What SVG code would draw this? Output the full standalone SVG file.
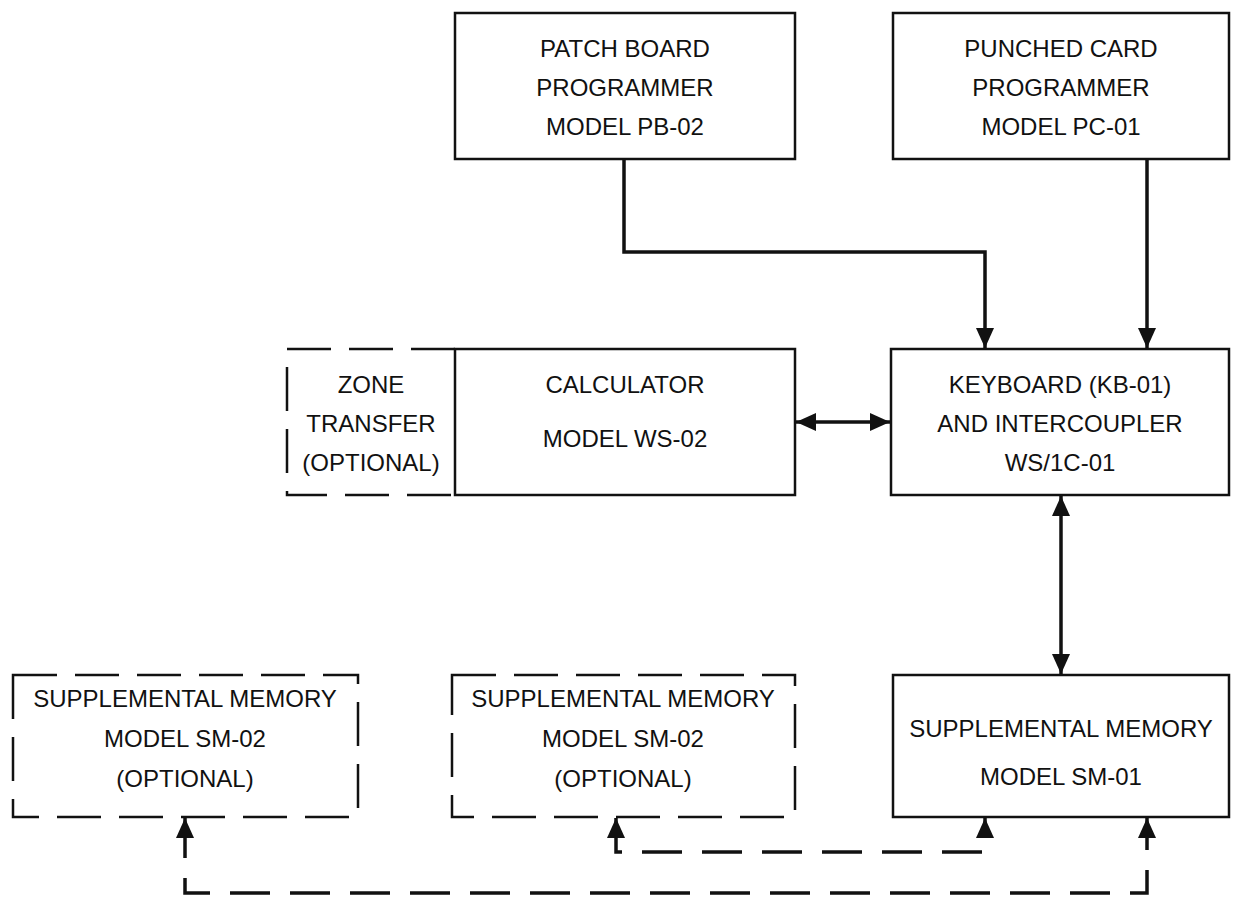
<svg xmlns="http://www.w3.org/2000/svg" width="1238" height="904" viewBox="0 0 1238 904">
<style>
.box{fill:none;stroke:#111;stroke-width:2.5}
.dbox{fill:none;stroke:#111;stroke-width:2.5;stroke-dasharray:44 18}
.t{font-family:"Liberation Sans",Arial,sans-serif;font-size:24px;fill:#111;text-anchor:middle}
.c{fill:none;stroke:#111;stroke-width:3.5}
.dc{fill:none;stroke:#111;stroke-width:3.5;stroke-dasharray:40 20}
</style>
<defs>
<marker id="ah" markerUnits="userSpaceOnUse" markerWidth="22" markerHeight="20" refX="20" refY="10" orient="auto-start-reverse">
<path d="M0,1 L20,10 L0,19 Z" fill="#111"/>
</marker>
</defs>
<rect width="1238" height="904" fill="#fff"/>
<g id="pb">
<rect class="box" x="455" y="13" width="340" height="146"/>
<text class="t" x="625" y="57">PATCH BOARD</text>
<text class="t" x="625" y="96">PROGRAMMER</text>
<text class="t" x="625" y="135">MODEL PB-02</text>
</g>
<g id="pc">
<rect class="box" x="893" y="13" width="336" height="146"/>
<text class="t" x="1061" y="57">PUNCHED CARD</text>
<text class="t" x="1061" y="96">PROGRAMMER</text>
<text class="t" x="1061" y="135">MODEL PC-01</text>
</g>
<g id="zone">
<path class="dbox" d="M455,349 H287 V495 H455"/>
<text class="t" x="371" y="393">ZONE</text>
<text class="t" x="371" y="432">TRANSFER</text>
<text class="t" x="371" y="471">(OPTIONAL)</text>
</g>
<g id="calc">
<rect class="box" x="455" y="349" width="340" height="146"/>
<text class="t" x="625" y="393">CALCULATOR</text>
<text class="t" x="625" y="447">MODEL WS-02</text>
</g>
<g id="kb">
<rect class="box" x="891" y="349" width="338" height="146"/>
<text class="t" x="1060" y="393">KEYBOARD (KB-01)</text>
<text class="t" x="1060" y="432">AND INTERCOUPLER</text>
<text class="t" x="1060" y="471">WS/1C-01</text>
</g>
<g id="sm02a">
<rect class="dbox" x="13" y="675" width="345" height="142"/>
<text class="t" x="185" y="707">SUPPLEMENTAL MEMORY</text>
<text class="t" x="185" y="747">MODEL SM-02</text>
<text class="t" x="185" y="787">(OPTIONAL)</text>
</g>
<g id="sm02b">
<rect class="dbox" x="452" y="675" width="343" height="142"/>
<text class="t" x="623" y="707">SUPPLEMENTAL MEMORY</text>
<text class="t" x="623" y="747">MODEL SM-02</text>
<text class="t" x="623" y="787">(OPTIONAL)</text>
</g>
<g id="sm01">
<rect class="box" x="893" y="675" width="336" height="142"/>
<text class="t" x="1061" y="737">SUPPLEMENTAL MEMORY</text>
<text class="t" x="1061" y="785">MODEL SM-01</text>
</g>
<g id="connectors">
<path class="c" d="M624,159 V252 H985 V348" marker-end="url(#ah)"/>
<path class="c" d="M1147,159 V348" marker-end="url(#ah)"/>
<path class="c" d="M796,422 H890" marker-start="url(#ah)" marker-end="url(#ah)"/>
<path class="c" d="M1061,496 V674" marker-start="url(#ah)" marker-end="url(#ah)"/>
<path class="dc" d="M616,818 V852 H985 V818" marker-start="url(#ah)" marker-end="url(#ah)"/>
<path class="dc" d="M185,818 V893 H1147 V818" marker-start="url(#ah)" marker-end="url(#ah)"/>
</g>
</svg>
